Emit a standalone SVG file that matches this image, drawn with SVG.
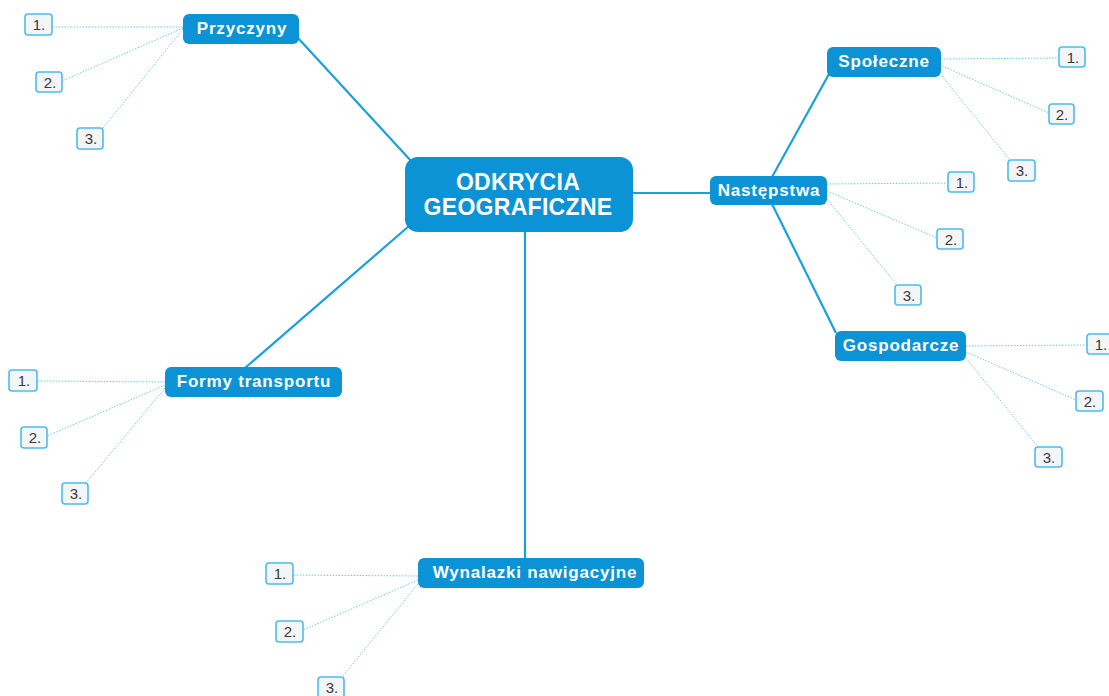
<svg xmlns="http://www.w3.org/2000/svg" width="1109" height="696" viewBox="0 0 1109 696">
<style>
.node rect{fill:#0b93d5;}
.node text{fill:#ffffff;font-family:"Liberation Sans",Arial,sans-serif;font-weight:bold;font-size:17px;letter-spacing:0.8px;text-anchor:middle;}
.main text{font-size:23px;letter-spacing:0.3px;}
.lbl rect{fill:#f3f5f7;stroke:#4cbde9;stroke-width:1.6;}
.lbl text{fill:#3a3a3a;font-family:"Liberation Sans",Arial,sans-serif;font-size:15px;text-anchor:middle;}
.branch{stroke:#1aa0dc;stroke-width:2.2;fill:none;}
.dot{stroke:#6ccbee;stroke-width:1;stroke-dasharray:1.5 1.5;fill:none;}
</style>
<rect width="1109" height="696" fill="#ffffff"/>
<g id="connectors">
<line class="branch" x1="298" y1="38" x2="412" y2="162"/>
<line class="branch" x1="409" y1="226" x2="245" y2="368"/>
<line class="branch" x1="525" y1="232" x2="525" y2="559"/>
<line class="branch" x1="632" y1="193" x2="711" y2="193"/>
<line class="branch" x1="829" y1="74" x2="772" y2="177"/>
<line class="branch" x1="772" y1="204" x2="836" y2="333"/>
<line class="dot" x1="183" y1="27" x2="52" y2="27"/>
<line class="dot" x1="183" y1="28" x2="62" y2="81"/>
<line class="dot" x1="183" y1="29" x2="103" y2="128"/>
<line class="dot" x1="941" y1="59" x2="1059" y2="58"/>
<line class="dot" x1="942" y1="66" x2="1049" y2="113"/>
<line class="dot" x1="942" y1="76" x2="1010" y2="160"/>
<line class="dot" x1="827" y1="184" x2="948" y2="183"/>
<line class="dot" x1="827" y1="191" x2="937" y2="238"/>
<line class="dot" x1="827" y1="199" x2="897" y2="285"/>
<line class="dot" x1="966" y1="346" x2="1087" y2="345"/>
<line class="dot" x1="966" y1="352" x2="1076" y2="400"/>
<line class="dot" x1="966" y1="358" x2="1038" y2="447"/>
<line class="dot" x1="165" y1="382" x2="37" y2="381"/>
<line class="dot" x1="165" y1="385" x2="47" y2="436"/>
<line class="dot" x1="165" y1="388" x2="86" y2="483"/>
<line class="dot" x1="418" y1="576" x2="293" y2="575"/>
<line class="dot" x1="418" y1="580" x2="303" y2="630"/>
<line class="dot" x1="418" y1="584" x2="342" y2="677"/>
</g>
<g id="central" class="node main">
<rect x="405" y="157" width="228" height="75" rx="13"/>
<text x="518" y="190">ODKRYCIA</text>
<text x="518" y="215">GEOGRAFICZNE</text>
</g>
<g id="przyczyny" class="node">
<rect x="183" y="14" width="116" height="30" rx="6"/>
<text x="242" y="34">Przyczyny</text>
</g>
<g id="nastepstwa" class="node">
<rect x="710" y="176" width="117" height="29" rx="6"/>
<text x="769" y="196">Następstwa</text>
</g>
<g id="spoleczne" class="node">
<rect x="827" y="47" width="114" height="30" rx="6"/>
<text x="884" y="67">Społeczne</text>
</g>
<g id="gospodarcze" class="node">
<rect x="835" y="331" width="131" height="30" rx="6"/>
<text x="901" y="351">Gospodarcze</text>
</g>
<g id="formy" class="node">
<rect x="165" y="367" width="177" height="30" rx="6"/>
<text x="254" y="387">Formy transportu</text>
</g>
<g id="wynalazki" class="node">
<rect x="418" y="558" width="226" height="30" rx="6"/>
<text x="535" y="578">Wynalazki nawigacyjne</text>
</g>
<g id="przyczyny-1" class="lbl"><rect x="25" y="14" width="27" height="21" rx="3"/><text x="39" y="30">1.</text></g>
<g id="przyczyny-2" class="lbl"><rect x="36" y="72" width="26" height="20" rx="3"/><text x="50" y="88">2.</text></g>
<g id="przyczyny-3" class="lbl"><rect x="77" y="128" width="26" height="21" rx="3"/><text x="91" y="144">3.</text></g>
<g id="spoleczne-1" class="lbl"><rect x="1059" y="47" width="26" height="20" rx="3"/><text x="1073" y="63">1.</text></g>
<g id="spoleczne-2" class="lbl"><rect x="1049" y="104" width="25" height="20" rx="3"/><text x="1062" y="120">2.</text></g>
<g id="spoleczne-3" class="lbl"><rect x="1008" y="160" width="27" height="21" rx="3"/><text x="1022" y="176">3.</text></g>
<g id="nastepstwa-1" class="lbl"><rect x="948" y="172" width="26" height="20" rx="3"/><text x="962" y="188">1.</text></g>
<g id="nastepstwa-2" class="lbl"><rect x="937" y="229" width="26" height="20" rx="3"/><text x="951" y="245">2.</text></g>
<g id="nastepstwa-3" class="lbl"><rect x="895" y="285" width="26" height="20" rx="3"/><text x="909" y="301">3.</text></g>
<g id="gospodarcze-1" class="lbl"><rect x="1087" y="334" width="26" height="20" rx="3"/><text x="1101" y="350">1.</text></g>
<g id="gospodarcze-2" class="lbl"><rect x="1076" y="391" width="27" height="20" rx="3"/><text x="1090" y="407">2.</text></g>
<g id="gospodarcze-3" class="lbl"><rect x="1035" y="447" width="27" height="20" rx="3"/><text x="1049" y="463">3.</text></g>
<g id="formy-1" class="lbl"><rect x="9" y="370" width="28" height="21" rx="3"/><text x="24" y="386">1.</text></g>
<g id="formy-2" class="lbl"><rect x="21" y="427" width="26" height="21" rx="3"/><text x="35" y="443">2.</text></g>
<g id="formy-3" class="lbl"><rect x="62" y="483" width="26" height="21" rx="3"/><text x="76" y="499">3.</text></g>
<g id="wynalazki-1" class="lbl"><rect x="266" y="563" width="27" height="21" rx="3"/><text x="280" y="579">1.</text></g>
<g id="wynalazki-2" class="lbl"><rect x="276" y="621" width="27" height="21" rx="3"/><text x="290" y="637">2.</text></g>
<g id="wynalazki-3" class="lbl"><rect x="318" y="677" width="26" height="21" rx="3"/><text x="332" y="693">3.</text></g>
</svg>
